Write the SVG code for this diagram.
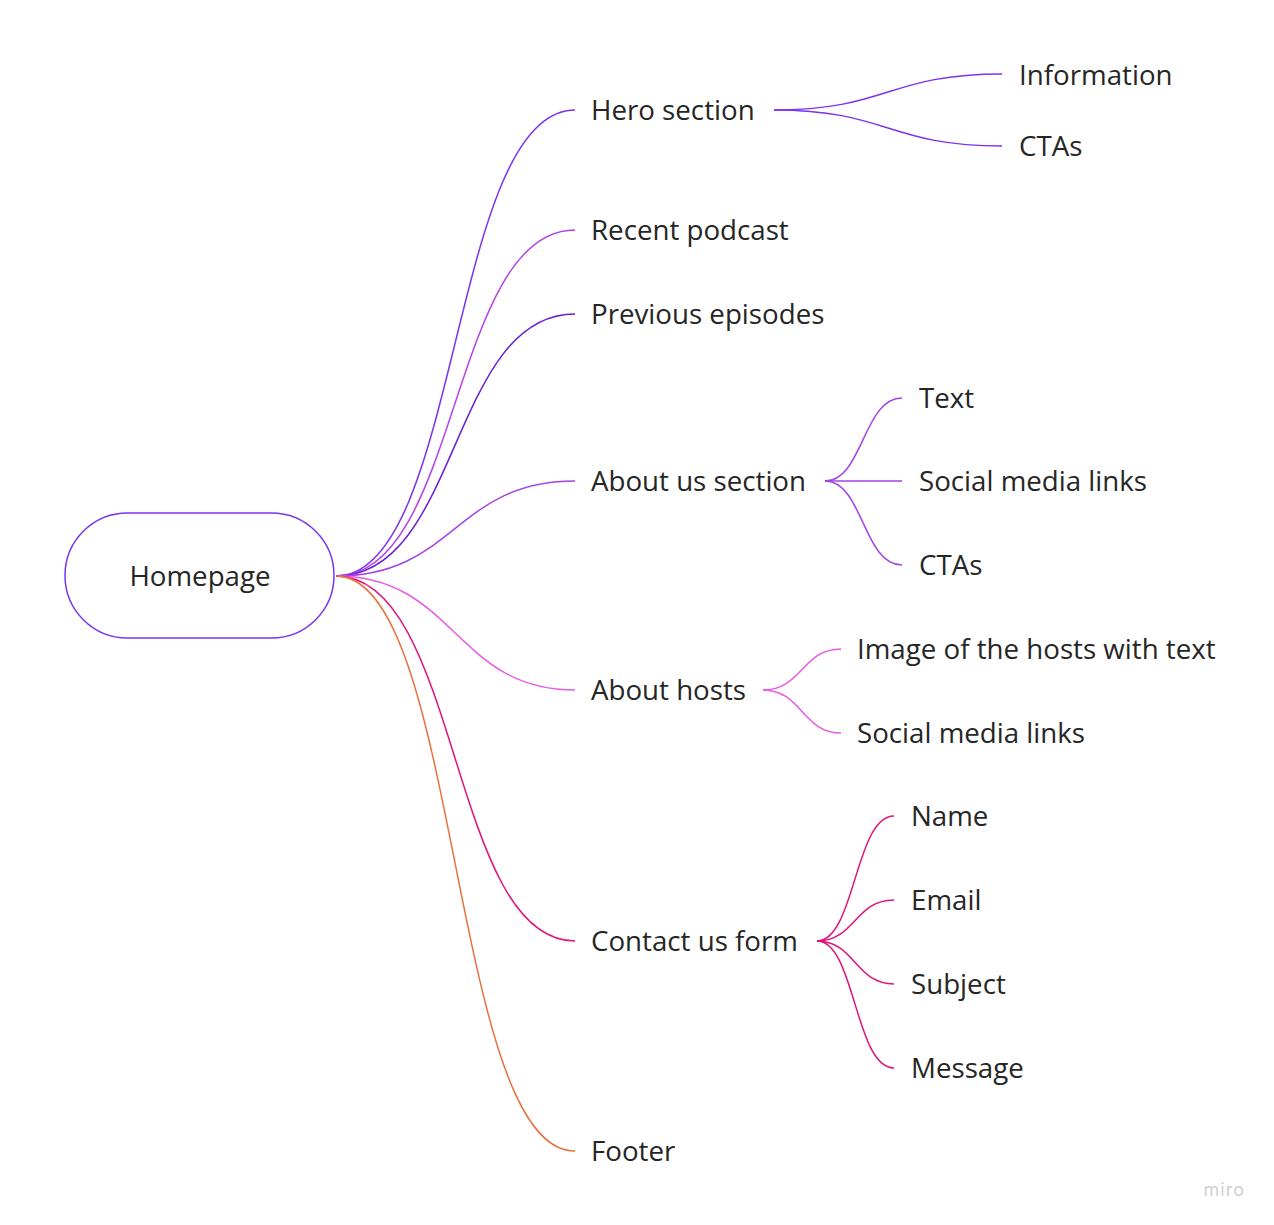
<svg xmlns="http://www.w3.org/2000/svg" width="1274" height="1225" viewBox="0 0 1274 1225">
<style>
.t{font-family:"Open Sans","Noto Sans","Liberation Sans",sans-serif;font-size:27.7px;fill:#262626}
.c{fill:none;stroke-width:1.5}
.hero{stroke:#7d33ee}.recent{stroke:#b443e6}.prev{stroke:#6a1fd6}.about{stroke:#a342e6}.hosts{stroke:#e95ae6}.contact{stroke:#e0137a}.footer{stroke:#e8713f}
</style>
<rect width="1274" height="1225" fill="#ffffff"/>
<g id="connectors">
<path class="c hero" d="M336 576 C460 576 450 110 575 110"/>
<path class="c recent" d="M336 576 C460 576 450 230 575 230"/>
<path class="c prev" d="M336 576 C460 576 450 314 575 314"/>
<path class="c about" d="M336 576 C455 576 455 481 575 481"/>
<path class="c hosts" d="M336 576 C455 576 455 690 575 690"/>
<path class="c contact" d="M336 576 C460 576 450 941 575 941"/>
<path class="c footer" d="M336 576 C460 576 450 1151 575 1151"/>
<path class="c hero" d="M774 110 C888 110 888 74 1002 74"/>
<path class="c hero" d="M774 110 C888 110 888 146 1002 146"/>
<path class="c about" d="M825 481 C863 481 863 398 902 398"/>
<path class="c about" d="M825 481 L902 481"/>
<path class="c about" d="M825 481 C863 481 863 565 902 565"/>
<path class="c hosts" d="M763 690 C802 690 802 649 841 649"/>
<path class="c hosts" d="M763 690 C802 690 802 733 841 733"/>
<path class="c contact" d="M817 941 C855 941 855 816 894 816"/>
<path class="c contact" d="M817 941 C855 941 855 900 894 900"/>
<path class="c contact" d="M817 941 C855 941 855 984 894 984"/>
<path class="c contact" d="M817 941 C855 941 855 1068 894 1068"/>
</g>
<g id="root"><rect x="65" y="513" width="269" height="125" rx="62.5" fill="#fff" stroke="#7d33ee" stroke-width="1.5"/><text class="t" x="200" y="586" text-anchor="middle">Homepage</text></g>
<g id="hero"><text class="t" x="591" y="120">Hero section</text></g>
<g id="information"><text class="t" x="1019" y="85">Information</text></g>
<g id="hero-ctas"><text class="t" x="1019" y="156">CTAs</text></g>
<g id="recent"><text class="t" x="591" y="240">Recent podcast</text></g>
<g id="previous"><text class="t" x="591" y="324">Previous episodes</text></g>
<g id="about-us"><text class="t" x="591" y="491">About us section</text></g>
<g id="about-text"><text class="t" x="919" y="408">Text</text></g>
<g id="about-social"><text class="t" x="919" y="491">Social media links</text></g>
<g id="about-ctas"><text class="t" x="919" y="575">CTAs</text></g>
<g id="about-hosts"><text class="t" x="591" y="700">About hosts</text></g>
<g id="hosts-image"><text class="t" x="857" y="659">Image of the hosts with text</text></g>
<g id="hosts-social"><text class="t" x="857" y="743">Social media links</text></g>
<g id="contact"><text class="t" x="591" y="951">Contact us form</text></g>
<g id="name"><text class="t" x="911" y="826">Name</text></g>
<g id="email"><text class="t" x="911" y="910">Email</text></g>
<g id="subject"><text class="t" x="911" y="994">Subject</text></g>
<g id="message"><text class="t" x="911" y="1078">Message</text></g>
<g id="footer"><text class="t" x="591" y="1161">Footer</text></g>
<text x="1245" y="1196" text-anchor="end" font-family="Inter,'Liberation Sans',sans-serif" font-size="18" fill="#d0d0d0" letter-spacing="1">miro</text>
</svg>
